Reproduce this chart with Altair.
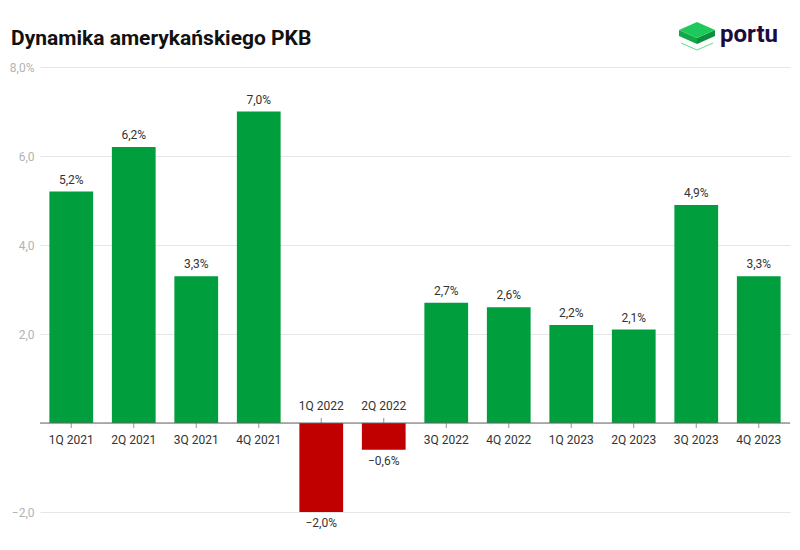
import altair as alt
import pandas as pd

quarters = ["1Q 2021", "2Q 2021", "3Q 2021", "4Q 2021", "1Q 2022", "2Q 2022",
            "3Q 2022", "4Q 2022", "1Q 2023", "2Q 2023", "3Q 2023", "4Q 2023"]
values = [5.2, 6.2, 3.3, 7.0, -2.0, -0.6, 2.7, 2.6, 2.2, 2.1, 4.9, 3.3]
y_ticks = [-2, 0, 2, 4, 6, 8]
title_text = "Dynamika amerykańskiego PKB"
brand = "portu"

GREEN = "#009e3d"
RED = "#c00000"
FONT = "Roboto"

df = pd.DataFrame({"q": quarters, "v": values})
one = pd.DataFrame({"title": [title_text], "brand": [brand]})

x = alt.X("q:N", sort=quarters, axis=None,
          scale=alt.Scale(paddingInner=0.3, paddingOuter=0.15))
y = alt.Y("v:Q", title=None,
          scale=alt.Scale(domain=[-2, 8], nice=False),
          axis=alt.Axis(values=y_ticks, grid=True, gridColor="#e6e6e6", gridWidth=1,
                        domain=False, ticks=False, labelColor="#b3b3b3",
                        labelFont=FONT, labelFontSize=12, labelPadding=6,
                        labelExpr="datum.value == 8 ? '8,0%' : datum.value == 0 ? '' : replace(format(datum.value, '.1f'), '.', ',')"))

base = alt.Chart(df).transform_calculate(
    lab="replace(format(datum.v, '.1f'), '.', ',') + '%'"
)

bars = base.mark_bar().encode(
    x=x, y=y,
    color=alt.condition("datum.v >= 0", alt.value(GREEN), alt.value(RED)),
)

zero = alt.Chart(pd.DataFrame({"z": [0]})).mark_rule(color="#666666", strokeWidth=1).encode(
    y=alt.Y("z:Q", scale=alt.Scale(domain=[-2, 8], nice=False))
)

pos = base.transform_filter("datum.v >= 0")
neg = base.transform_filter("datum.v < 0")

tick_pos = pos.mark_tick(orient="vertical", size=5, thickness=1, color="#666666", yOffset=2.5).encode(
    x=x, y=alt.datum(0))
tick_neg = neg.mark_tick(orient="vertical", size=5, thickness=1, color="#666666", yOffset=-2.5).encode(
    x=x, y=alt.datum(0))

xl_pos = pos.mark_text(font=FONT, fontSize=12, color="#333333", dy=17, baseline="middle").encode(
    x=x, y=alt.datum(0), text="q:N")
xl_neg = neg.mark_text(font=FONT, fontSize=12, color="#333333", dy=-17, baseline="middle").encode(
    x=x, y=alt.datum(0), text="q:N")

vl_pos = pos.mark_text(font=FONT, fontSize=12, color="#333333", dy=-12, baseline="middle").encode(
    x=x, y="v:Q", text="lab:N")
vl_neg = neg.mark_text(font=FONT, fontSize=12, color="#333333", dy=11, baseline="middle").encode(
    x=x, y="v:Q", text="lab:N")

title = alt.Chart(one).mark_text(font=FONT, fontSize=21, fontWeight="bold", color="#111111",
                                 align="left", baseline="alphabetic").encode(
    x=alt.value(-29), y=alt.value(-22), text="title:N")

logo_text = alt.Chart(one).mark_text(font=FONT, fontSize=24, fontWeight="bold", color="#1b0c40",
                                     align="left", baseline="alphabetic").encode(
    x=alt.value(680), y=alt.value(-25), text="brand:N")

outline = alt.Chart(one).mark_point(
    shape="M-0.889,0.389 L0,0.778 L0.889,0.389",
    filled=False, stroke="#5fe08a", strokeWidth=1, size=1296, opacity=1
).encode(x=alt.value(657), y=alt.value(-31))

top_face = alt.Chart(one).mark_point(
    shape="M-1,-0.333 L0,-0.778 L1,-0.333 L0,0.111 Z",
    filled=True, fill="#1ec95c", strokeWidth=0, size=1296, opacity=1
).encode(x=alt.value(657), y=alt.value(-31))

left_face = alt.Chart(one).mark_point(
    shape="M-1,-0.333 L0,0.111 L0,0.444 L-1,0 Z",
    filled=True, fill="#12a848", strokeWidth=0, size=1296, opacity=1
).encode(x=alt.value(657), y=alt.value(-31))

right_face = alt.Chart(one).mark_point(
    shape="M0,0.111 L1,-0.333 L1,0 L0,0.444 Z",
    filled=True, fill="#0b8f3c", strokeWidth=0, size=1296, opacity=1
).encode(x=alt.value(657), y=alt.value(-31))

chart = alt.layer(
    bars, zero, tick_pos, tick_neg, xl_pos, xl_neg, vl_pos, vl_neg,
    title, outline, left_face, right_face, top_face, logo_text
).properties(
    width=750, height=445,
    autosize=alt.AutoSizeParams(type="none"),
    padding={"left": 32, "top": 59, "right": 2, "bottom": 30},
    background="white",
).configure_view(stroke=None)

chart.save("out.html", embed_options={"renderer": "svg", "actions": False})
